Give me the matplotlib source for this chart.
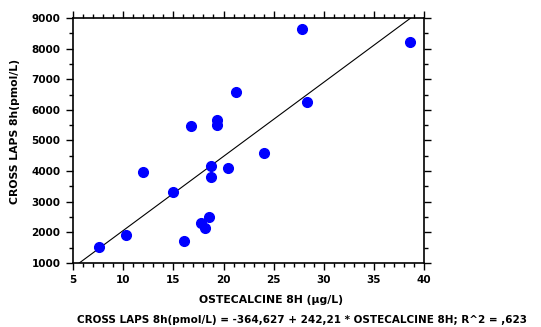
import numpy as np
import matplotlib
matplotlib.use("Agg")
import matplotlib.pyplot as plt
from matplotlib.ticker import MultipleLocator

plt.rcParams['font.family'] = ['DejaVu Sans']
plt.rcParams['font.weight'] = 'bold'

osteo = [7.6, 10.3, 12.0, 15.0, 16.1, 16.8, 17.8, 18.2, 18.6, 18.8, 18.8,
         19.4, 19.4, 20.4, 21.2, 24.0, 27.8, 28.3, 38.6]
crosslaps = [1510, 1910, 3960, 3300, 1720, 5470, 2310, 2130, 2510, 4170, 3800,
             5660, 5520, 4090, 6590, 4580, 8640, 6260, 8220]

intercept = -364.627
slope = 242.21

fig = plt.figure(figsize=(5.41, 3.27), dpi=100)
ax = fig.add_axes([0.135, 0.196, 0.649, 0.749])

xs = np.array([5, 40])
ax.plot(xs, intercept + slope * xs, color='black', lw=0.8, zorder=2)
ax.plot(osteo, crosslaps, 'o', color='#0000ff', markersize=7, zorder=3)

ax.set_xlim(5, 40)
ax.set_ylim(1000, 9000)
ax.xaxis.set_major_locator(MultipleLocator(5))
ax.xaxis.set_minor_locator(MultipleLocator(1))
ax.yaxis.set_major_locator(MultipleLocator(1000))
ax.yaxis.set_minor_locator(MultipleLocator(500))
ax.tick_params(which='both', direction='out', top=True, right=True,
               labeltop=False, labelright=False, width=1)
ax.tick_params(which='major', length=5, labelsize=7.5, pad=4)
ax.tick_params(which='minor', length=3)
for s in ax.spines.values():
    s.set_linewidth(1.2)

ax.set_xlabel("OSTECALCINE 8H (µg/L)", fontsize=7.8, fontweight='bold')
ax.set_ylabel("CROSS LAPS 8h(pmol/L)", fontsize=7.8, fontweight='bold')
ax.xaxis.set_label_coords(0.564, -0.13)
ax.yaxis.set_label_coords(-0.15, 0.535)
fig.text(0.558, 0.02, "CROSS LAPS 8h(pmol/L) = -364,627 + 242,21 * OSTECALCINE 8H; R^2 = ,623",
         ha='center', va='center', fontsize=7.5, fontweight='bold')

fig.savefig("out.png", dpi=100)
